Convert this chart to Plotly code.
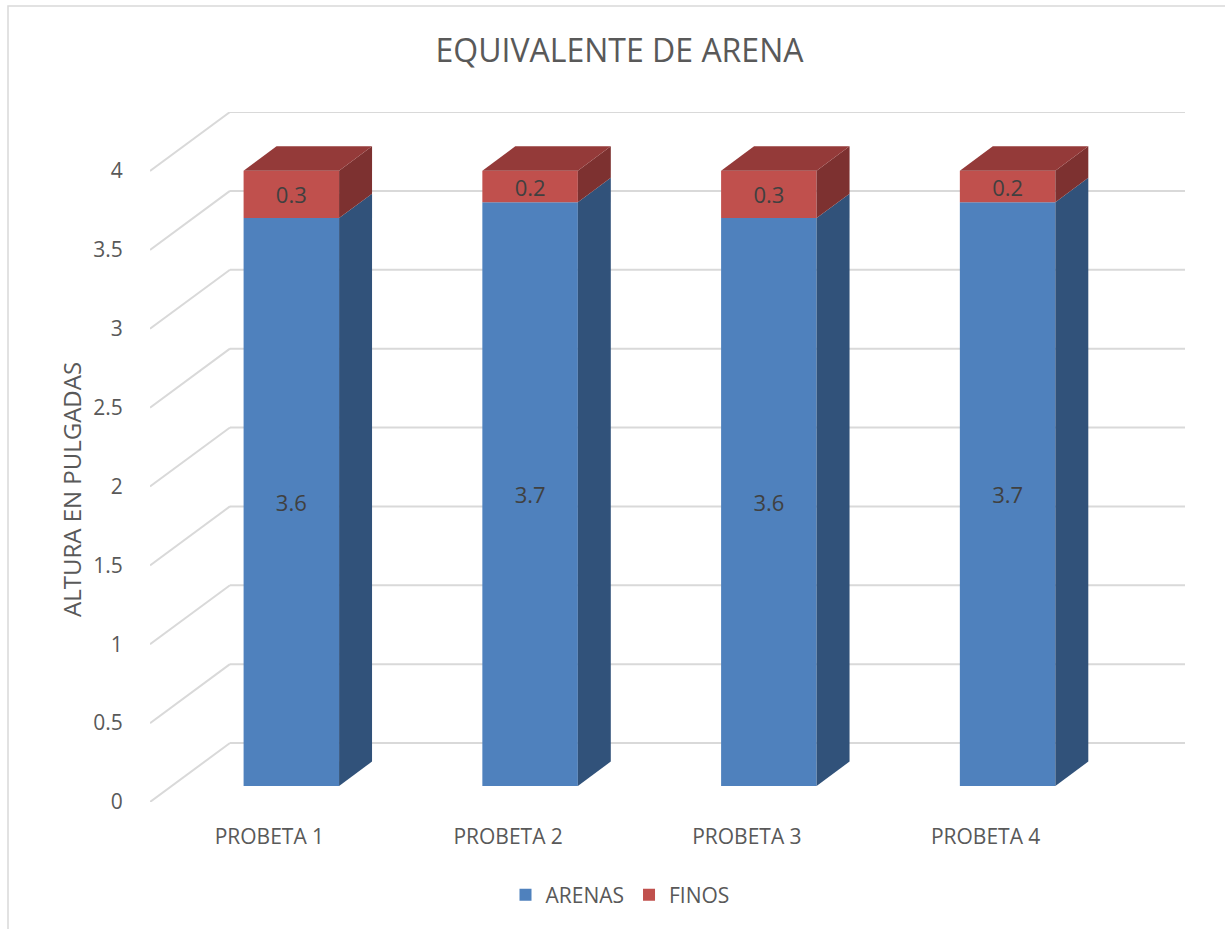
import plotly.graph_objects as go

# ---- data ----
categorias = ["PROBETA 1", "PROBETA 2", "PROBETA 3", "PROBETA 4"]
arenas = [3.6, 3.7, 3.6, 3.7]
finos = [0.3, 0.2, 0.3, 0.2]
y_ticks = [0, 0.5, 1, 1.5, 2, 2.5, 3, 3.5, 4]

# ---- pseudo-3D geometry (in axis units) ----
DX, DY = 0.335, 0.374        # depth of the floor / back wall
FX, FY = 0.092, 0.1015       # offset of bar front face into depth
BX, BY = 0.138, 0.155        # bar depth
BW = 0.40                    # bar width

C_BLUE, C_BLUE_SIDE = "#4F81BD", "#31527A"
C_RED, C_RED_SIDE, C_RED_TOP = "#C0504D", "#7D3130", "#943A39"
TXT = "#595959"
FONT = "Open Sans"

fig = go.Figure()

xs = [i + FX for i in range(len(categorias))]

# side and top faces
for i, x in enumerate(xs):
    xr = x + BW / 2
    xl = x - BW / 2
    b0 = FY
    t1 = FY + arenas[i]
    t2 = t1 + finos[i]
    for (lo, hi, col) in [(b0, t1, C_BLUE_SIDE), (t1, t2, C_RED_SIDE)]:
        fig.add_trace(go.Scatter(
            x=[xr, xr + BX, xr + BX, xr, xr],
            y=[lo, lo + BY, hi + BY, hi, lo],
            fill="toself", fillcolor=col, mode="lines",
            line=dict(width=0, color=col), showlegend=False, hoverinfo="skip"))
    fig.add_trace(go.Scatter(
        x=[xl, xl + BX, xr + BX, xr, xl],
        y=[t2, t2 + BY, t2 + BY, t2, t2],
        fill="toself", fillcolor=C_RED_TOP, mode="lines",
        line=dict(width=0, color=C_RED_TOP), showlegend=False, hoverinfo="skip"))

# front faces
fig.add_trace(go.Bar(
    x=xs, y=arenas, base=[FY] * len(xs), width=BW, name="ARENAS",
    marker=dict(color=C_BLUE, line=dict(width=0)),
    text=[str(v) for v in arenas], textposition="inside", insidetextanchor="middle",
    textangle=0, constraintext="none",
    insidetextfont=dict(color="#404040", size=22, family=FONT)))
fig.add_trace(go.Bar(
    x=xs, y=finos, base=[FY + a for a in arenas], width=BW, name="FINOS",
    marker=dict(color=C_RED, line=dict(width=0)),
    text=[str(v) for v in finos], textposition="inside", insidetextanchor="middle",
    textangle=0, constraintext="none",
    insidetextfont=dict(color="#404040", size=22, family=FONT)))

# back wall gridlines and side wall diagonals
shapes = []
x_left = -0.5
x_right = len(categorias) - 0.5
for v in y_ticks:
    shapes.append(dict(type="line", xref="x", yref="y", layer="below",
                       x0=x_left + DX, x1=x_right + DX, y0=v + DY, y1=v + DY,
                       line=dict(color="#D9D9D9", width=2)))
    shapes.append(dict(type="line", xref="x", yref="y", layer="below",
                       x0=x_left, x1=x_left + DX, y0=v, y1=v + DY,
                       line=dict(color="#D9D9D9", width=2)))
# chart border
shapes.append(dict(type="rect", xref="paper", yref="paper", layer="below",
                   x0=(8 - 150) / 1035, x1=(1240 - 150) / 1035,
                   y0=(802 - 940) / 690, y1=(802 - 6) / 690,
                   line=dict(color="#D9D9D9", width=1.5)))

fig.update_layout(
    width=1225, height=929,
    margin=dict(l=150, r=40, t=112, b=127),
    paper_bgcolor="white", plot_bgcolor="white",
    barmode="overlay",
    shapes=shapes,
    hovermode=False,
    font=dict(family=FONT, color=TXT),
    title=dict(text="EQUIVALENTE DE ARENA", x=619.5 / 1225, xanchor="center",
               y=1 - 51 / 929, yanchor="middle", yref="container",
               font=dict(size=32, color=TXT, family=FONT)),
    xaxis=dict(range=[x_left, x_right + DX], tickvals=list(range(len(categorias))),
               ticktext=categorias, showgrid=False, zeroline=False, showline=False,
               ticks="outside", ticklen=16, tickcolor="rgba(0,0,0,0)",
               tickfont=dict(size=21, color=TXT, family=FONT), fixedrange=True),
    yaxis=dict(range=[0, 4 + DY], tickvals=y_ticks, ticktext=[f"{v:g}" for v in y_ticks],
               showgrid=False, zeroline=False, showline=False,
               ticks="outside", ticklen=22, tickcolor="rgba(0,0,0,0)",
               tickfont=dict(size=21, color=TXT, family=FONT), fixedrange=True),
    legend=dict(orientation="h", x=(620 - 150) / 1035, xanchor="center",
                y=(802 - 895) / 690, yanchor="middle",
                font=dict(size=21, color=TXT, family=FONT)),
    annotations=[dict(text="ALTURA EN PULGADAS", textangle=-90, xref="paper", yref="paper",
                      x=(72 - 150) / 1035, y=(802 - 490) / 690, xanchor="center",
                      yanchor="middle", showarrow=False,
                      font=dict(size=24, color=TXT, family=FONT))],
)

fig.write_html("out.html")
